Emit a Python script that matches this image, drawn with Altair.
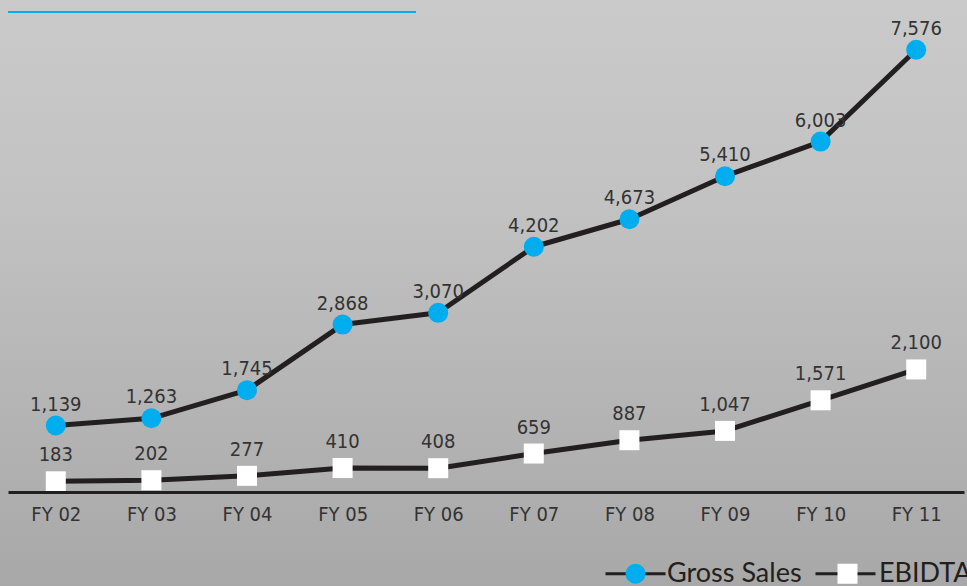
import altair as alt
import pandas as pd

years = ["FY 02", "FY 03", "FY 04", "FY 05", "FY 06", "FY 07", "FY 08", "FY 09", "FY 10", "FY 11"]
gross_sales = [1139, 1263, 1745, 2868, 3070, 4202, 4673, 5410, 6003, 7576]
ebidta = [183, 202, 277, 410, 408, 659, 887, 1047, 1571, 2100]
series_names = ["Gross Sales", "EBIDTA"]

rows = []
for yr, g, e in zip(years, gross_sales, ebidta):
    rows.append({"year": yr, "value": g, "series": "Gross Sales", "series_l": "Gross Sales"})
    rows.append({"year": yr, "value": e, "series": "EBIDTA", "series_l": "EBIDTA"})
df = pd.DataFrame(rows)

FONT = "DejaVu Sans Condensed, DejaVu Sans, sans-serif"
LEG_FONT = "Lato"
INK = "#231f20"
BLUE = "#00aeef"

x_enc = alt.X(
    "year:N", sort=years,
    scale=alt.Scale(type="point", padding=0.5),
    axis=alt.Axis(title=None, labelAngle=0, ticks=False, grid=False, zindex=1,
                  domainColor=INK, domainWidth=3, labelFont=FONT,
                  labelFontSize=20, labelColor="#333333", labelPadding=12),
)
y_enc = alt.Y("value:Q", scale=alt.Scale(domain=[0, 8429], nice=False, zero=True), axis=None)

leg_common = dict(
    title=None, orient="none", legendX=614, legendY=560, direction="horizontal",
    symbolSize=400, labelFont=LEG_FONT, labelFontSize=27, labelColor=INK,
    labelOffset=18, padding=0,
)

base = alt.Chart(df)

gradient = alt.Gradient(
    gradient="linear", x1=0, x2=0, y1=0, y2=1,
    stops=[alt.GradientStop(color="#cacaca", offset=0),
           alt.GradientStop(color="#c2c2c2", offset=0.35),
           alt.GradientStop(color="#b4b4b4", offset=0.7),
           alt.GradientStop(color="#a8a8a8", offset=1)],
)
bg = alt.Chart(alt.Data(values=[{}])).mark_rect(fill=gradient).encode(
    x=alt.value(-8), x2=alt.value(959), y=alt.value(0), y2=alt.value(586)
)
title_rule = alt.Chart(alt.Data(values=[{}])).mark_rule(color=BLUE, strokeWidth=2).encode(
    x=alt.value(0), x2=alt.value(408), y=alt.value(12)
)

lines = base.mark_line(strokeWidth=5, strokeJoin="round").encode(
    x=x_enc, y=y_enc,
    stroke=alt.Stroke("series_l:N", sort=series_names,
                      scale=alt.Scale(range=[INK, INK]),
                      legend=alt.Legend(symbolType="M-3,0H3", symbolStrokeWidth=3,
                                        symbolStrokeColor=INK, labelOpacity=0, zindex=0,
                                        columnPadding=7, **leg_common)),
)

pt_legend = alt.Legend(symbolStrokeWidth=0, zindex=1, columnPadding=32, **leg_common)
points = base.mark_point(filled=True, size=400, opacity=1, strokeWidth=0).encode(
    x=x_enc, y=y_enc,
    shape=alt.Shape("series:N", scale=alt.Scale(domain=series_names, range=["circle", "square"]),
                    legend=pt_legend),
    fill=alt.Fill("series:N", scale=alt.Scale(domain=series_names, range=[BLUE, "#ffffff"]),
                  legend=pt_legend),
)

text_g = base.transform_filter(alt.datum.series == "Gross Sales").mark_text(
    font=FONT, fontSize=20, color="#333333", dy=-15, baseline="alphabetic"
).encode(x=x_enc, y=y_enc, text=alt.Text("value:Q", format=","))

text_e = base.transform_filter(alt.datum.series == "EBIDTA").mark_text(
    font=FONT, fontSize=20, color="#333333", dy=-20, baseline="alphabetic"
).encode(x=x_enc, y=y_enc, text=alt.Text("value:Q", format=","))

chart = alt.layer(bg, title_rule, lines, points, text_g, text_e).properties(
    width=956, height=492,
    padding={"left": 8, "top": 0, "right": 3, "bottom": 94},
    autosize=alt.AutoSizeParams(type="none"),
    background="#c4c4c4",
).configure_view(stroke=None)

chart.save("out.html", embed_options={"renderer": "svg", "actions": False})
